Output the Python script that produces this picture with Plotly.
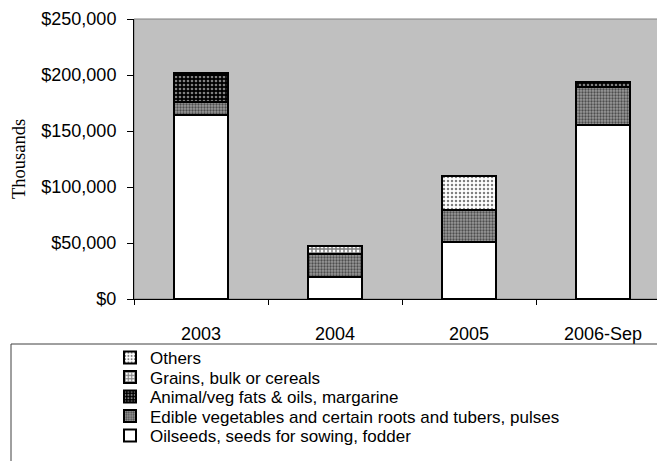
import plotly.graph_objects as go

categories = ["2003", "2004", "2005", "2006-Sep"]
oilseeds = [164000, 20000, 50500, 155000]
edible_veg = [12000, 20500, 29000, 34500]
animal_fats = [24000, 0, 0, 4500]
grains = [2000, 6500, 0, 0]
others = [0, 0, 30500, 0]

series_names = [
    "Oilseeds, seeds for sowing, fodder",
    "Edible vegetables and certain roots and tubers, pulses",
    "Animal/veg fats & oils, margarine",
    "Grains, bulk or cereals",
    "Others",
]
series_values = [oilseeds, edible_veg, animal_fats, grains, others]
y_ticks = [0, 50000, 100000, 150000, 200000, 250000]

patterns = [
    dict(shape="", bgcolor="white"),
    dict(shape=".", fgcolor="black", bgcolor="#9a9a9a", size=3, solidity=0.45),
    dict(shape=".", fgcolor="white", bgcolor="black", size=4, solidity=0.35),
    dict(shape="+", fgcolor="black", bgcolor="white", size=4, solidity=0.6),
    dict(shape=".", fgcolor="black", bgcolor="white", size=4, solidity=0.3),
]
legend_ids = ["legend5", "legend4", "legend3", "legend2", "legend"]

OFF = 8  # page body margin
W, H = 665 - OFF, 461 - OFF
L, T = 134 - OFF, 19 - OFF
B = H - (299 - OFF)
plot_w = W - L
plot_h = H - T - B
cat_px = 134.0

fig = go.Figure()
for name, vals, pat, lg in zip(series_names, series_values, patterns, legend_ids):
    fig.add_trace(go.Bar(
        x=categories, y=vals, name=name, legend=lg,
        marker=dict(color="white", pattern=pat, line=dict(color="black", width=2)),
    ))

def px2x(px):
    return (px - 134) / plot_w

def px2y(py):
    return (299 - py) / plot_h

legend_rows = {"legend": 358, "legend2": 377.5, "legend3": 397, "legend4": 416.5, "legend5": 436}
legend_layout = {}
for lg, ypix in legend_rows.items():
    legend_layout[lg] = dict(
        x=px2x(110), xanchor="left", y=px2y(ypix), yanchor="middle",
        bgcolor="rgba(0,0,0,0)", borderwidth=0,
        font=dict(family="Liberation Sans, Arial", size=17, color="black"),
    )

fig.update_layout(
    width=W, height=H,
    margin=dict(l=L, r=0, t=T, b=B, autoexpand=False),
    barmode="stack", bargap=0.59,
    plot_bgcolor="#c0c0c0", paper_bgcolor="white",
    showlegend=True,
    xaxis=dict(
        range=[-0.5, -0.5 + plot_w / cat_px],
        showline=True, linecolor="black", linewidth=1,
        ticks="outside", tickson="boundaries", ticklen=5, tickcolor="black",
        tickfont=dict(family="Liberation Sans, Arial", size=18, color="black"),
        ticklabelstandoff=18,
        showgrid=False, fixedrange=True,
    ),
    yaxis=dict(
        range=[0, 250000], tickvals=y_ticks, tickformat="$,.0f",
        showline=True, linecolor="black", linewidth=1,
        ticks="outside", ticklen=6, tickcolor="black",
        tickfont=dict(family="Liberation Sans, Arial", size=18, color="black"),
        ticklabelstandoff=7,
        showgrid=False, zeroline=False,
        title=dict(text="Thousands", standoff=10,
                   font=dict(family="Liberation Serif, Times New Roman", size=18.5, color="black")),
        automargin=False,
    ),
    shapes=[
        dict(type="rect", xref="paper", yref="paper", x0=0, x1=1.05, y0=0, y1=1,
             line=dict(color="#808080", width=1), layer="below"),
        dict(type="rect", xref="paper", yref="paper", x0=px2x(11), x1=1.1,
             y0=-2, y1=px2y(344), line=dict(color="#404040", width=1), fillcolor="rgba(0,0,0,0)"),
    ],
    **legend_layout,
)

fig.write_html("out.html")
